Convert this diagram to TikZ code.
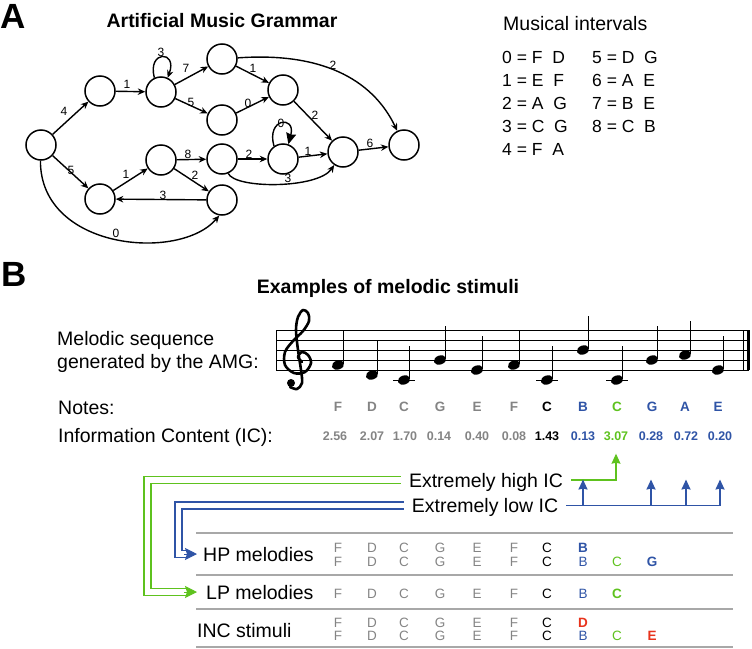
\documentclass[tikz,border=0pt]{standalone}
\usepackage{fontspec}
\setmainfont{Liberation Sans}
\usetikzlibrary{arrows.meta,calc}
\definecolor{ngray}{HTML}{848484}
\definecolor{nblue}{HTML}{2F54A6}
\definecolor{ngreen}{HTML}{5EC21E}
\definecolor{nred}{HTML}{E8331C}
\definecolor{rgray}{HTML}{A8A8A8}
\newcommand\tabrow[2]{\foreach \x/\t/\c/\f in {#2}{\node[tl, text=\c] (t#1x\x) at (\x,#1) {\f\t};}}
\begin{document}
\begin{tikzpicture}[x=1pt,y=-1pt,
 gnode/.style={circle,draw,line width=1.5pt,minimum size=30pt,inner sep=0pt},
 conn/.style={line width=1.4pt,-{Stealth[length=7.5pt,width=6.5pt]}},
 bigconn/.style={line width=1.4pt,-{Stealth[length=11pt,width=10pt,inset=1pt]}},
 elbl/.style={font=\fontsize{12}{14}\selectfont,inner sep=0pt,text height=8.6pt,text depth=0pt},
 panel/.style={font=\fontsize{35}{40}\selectfont\bfseries,inner sep=0pt,anchor=west,text height=25pt,text depth=0pt},
 ttl/.style={font=\fontsize{19.5}{23}\selectfont\bfseries,inner sep=0pt,text height=14pt,text depth=0pt},
 lab/.style={font=\fontsize{19.5}{23}\selectfont,inner sep=0pt,text height=14pt,text depth=0pt},
 ivl/.style={font=\fontsize{17.5}{20}\selectfont,inner sep=0pt,anchor=west,text height=12.5pt,text depth=0pt},
 nlet/.style={font=\fontsize{13.5}{15}\selectfont\bfseries,inner sep=0pt,text height=9.7pt,text depth=0pt},
 icv/.style={font=\fontsize{12.5}{14}\selectfont\bfseries,inner sep=0pt,text height=9pt,text depth=0pt},
 tl/.style={font=\fontsize{13.5}{15}\selectfont,inner sep=0pt,text height=9.7pt,text depth=0pt},
 gline/.style={draw=ngreen,line width=1.6pt},
 bline/.style={draw=nblue,line width=1.6pt},
]
\useasboundingbox (0,0) rectangle (752,648);

% ---------- panel A ----------
\node[panel] (pA) at (0,16) {A};
\node[ttl] (tA) at (222,20) {Artificial Music Grammar};

\node[gnode] (s)  at (41,145) {};
\node[gnode] (a1) at (100,91) {};
\node[gnode] (a2) at (161,92) {};
\node[gnode] (a3) at (222,59) {};
\node[gnode] (a4) at (222,120) {};
\node[gnode] (b1) at (100,199) {};
\node[gnode] (b2) at (161,160) {};
\node[gnode] (b3) at (222,159) {};
\node[gnode] (b4) at (222,200) {};
\node[gnode] (c1) at (283,90) {};
\node[gnode] (c2) at (283,159) {};
\node[gnode] (c3) at (343,152) {};
\node[gnode] (e)  at (404,145) {};

\draw[conn] (s) -- (a1);
\draw[conn] (s) -- (b1);
\draw[conn] (s.-92) .. controls (40,250) and (180,262) .. (b4.-100);
\draw[conn] (a1) -- (a2);
\draw[conn] (a2.115) .. controls (147,50) and (178,50) .. (a2.65);
\draw[conn] (a2) -- (a3);
\draw[conn] (a2) -- (a4);
\draw[conn] (a3) -- (c1);
\draw[conn] (a4) -- (c1);
\draw[conn] (a3) .. controls (320,52) and (372,78) .. (e);
\draw[conn] (c1) -- (c3);
\draw[conn] (b1) -- (b2);
\draw[conn] (b2) -- (b3);
\draw[conn] (b2) -- (b4);
\draw[conn] (b4) -- (b1);
\draw[conn] (b3) -- (c2);
\draw[bigconn] (c2.125) .. controls (266,118) and (296,115) .. (c2.70);
\draw[conn] (c2) -- (c3);
\draw[conn] (b3) .. controls (235,189) and (318,189) .. (c3);
\draw[conn] (c3) -- (e);

\node[elbl] (l1) at (64,111) {4};
\node[elbl] (l2) at (71,170) {5};
\node[elbl] (l3) at (127,84) {1};
\node[elbl] (l4) at (161,52) {3};
\node[elbl] (l5) at (186,68) {7};
\node[elbl] (l6) at (191,102) {5};
\node[elbl] (l7) at (188,154) {8};
\node[elbl] (l8) at (195,175) {2};
\node[elbl] (l9) at (126,174) {1};
\node[elbl] (l10) at (163,195) {3};
\node[elbl] (l11) at (116,233) {0};
\node[elbl] (l12) at (253,68) {1};
\node[elbl] (l13) at (333,65) {2};
\node[elbl] (l14) at (248,103) {0};
\node[elbl] (l15) at (315,115) {2};
\node[elbl] (l16) at (281,123) {0};
\node[elbl] (l17) at (249,154) {2};
\node[elbl] (l18) at (308,151) {1};
\node[elbl] (l19) at (370,143) {6};
\node[elbl] (l20) at (288,178) {3};

\node[lab, anchor=west] (mi) at (503,23) {Musical intervals};
\node[ivl] (i0) at (502,57) {0 = F\ \ D};
\node[ivl] (i1) at (502,80) {1 = E\ \ F};
\node[ivl] (i2) at (502,103) {2 = A\ \ G};
\node[ivl] (i3) at (502,126) {3 = C\ \ G};
\node[ivl] (i4) at (502,149) {4 = F\ \ A};
\node[ivl] (i5) at (592,57) {5 = D\ \ G};
\node[ivl] (i6) at (592,80) {6 = A\ \ E};
\node[ivl] (i7) at (592,103) {7 = B\ \ E};
\node[ivl] (i8) at (592,126) {8 = C\ \ B};

% ---------- panel B ----------
\node[panel] (pB) at (1,274) {B};
\node[ttl] (tB) at (388,286) {Examples of melodic stimuli};

\node[font=\fontsize{19.5}{23}\selectfont, inner sep=0pt, align=left, anchor=north west] (mel) at (57,331) {Melodic sequence\\generated by the AMG:};

% staff
\foreach \y in {330,340,350,360,370} \draw[line width=0.9pt] (276,\y) -- (749,\y);
\draw[line width=0.9pt] (276,330) -- (276,370);
\draw[line width=0.9pt] (743.5,330) -- (743.5,370);
\draw[line width=3pt] (748,330) -- (748,370);
% treble clef
\draw[line width=2.6pt, line cap=round, line join=round] plot[smooth, tension=0.55] coordinates {(302,362) (298,357) (302,352) (308,355) (311,363) (305,372) (294,373) (285,365) (285,352) (293,341) (303,331) (309,321) (308,313) (303,310) (298,317) (296,330) (298,350) (301,370) (302,383) (297,389) (290,387)};
\fill (291,383) circle[radius=4pt];
% notes
\foreach \x/\y in {338/365, 372/375, 404/380, 440/360, 477/370, 514/365, 547/380, 583/350, 617/380, 652/360, 685/355, 718/370}{
  \fill[rotate around={20:(\x,\y)}] (\x,\y) ellipse [x radius=6.3pt, y radius=4.5pt];
  \draw[line width=1pt] (\x+5.6,\y-1) -- (\x+5.6,\y-34);
}
\foreach \x in {404,547,617} \draw[line width=1pt] (\x-11,380) -- (\x+11,380);

\node[lab, anchor=west] (notes) at (58,407) {Notes:};
\node[lab, anchor=west] (info) at (58,435) {Information Content (IC):};

\foreach \x/\t/\c [count=\i] in {338/F/ngray,372/D/ngray,404/C/ngray,440/G/ngray,477/E/ngray,514/F/ngray,547/C/black,583/B/nblue,617/C/ngreen,652/G/nblue,685/A/nblue,718/E/nblue}
  \node[nlet, text=\c] (n\i) at (\x,407) {\t};
\foreach \x/\t/\c [count=\i] in {335/2.56/ngray,372/2.07/ngray,405/1.70/ngray,439/0.14/ngray,477/0.40/ngray,514/0.08/ngray,547/1.43/black,583/0.13/nblue,616/3.07/ngreen,651/0.28/nblue,686/0.72/nblue,720/0.20/nblue}
  \node[icv, text=\c] (v\i) at (\x,436) {\t};

% IC labels and connectors
\node[lab] (hi) at (486,480) {Extremely high IC};
\node[lab] (lo) at (485,505.5) {Extremely low IC};

\node[lab, anchor=west] (hp) at (203,554) {HP melodies};
\node[lab, anchor=west] (lp) at (206,592) {LP melodies};
\node[lab, anchor=west] (inc) at (197,630) {INC stimuli};

\draw[gline] ($(hi.east)+(8,0)$) -| ($(v9.south)+(0,22)$);
\draw[ngreen, line width=1pt, -{Stealth[length=10pt,width=9pt,inset=1pt]}] ($(v9.south)+(0,23)$) -- ($(v9.south)+(0,13)$);
\draw[bline] ($(lo.east)+(8,0)$) -- (v12 |- lo.east);
\foreach \k in {8,10,11,12}
  \draw[bline, -{Stealth[length=10pt,width=9pt,inset=1pt]}] (v\k |- lo.east) -- ($(v\k |- lo.east)+(0,-26)$);

\draw[gline] ($(hi.west)+(-8,-3.5)$) -| ($(lp.west)+(-62,3.5)$) -- ($(lp.west)+(-20,3.5)$);
\draw[gline] ($(hi.west)+(-8,3.5)$) -| ($(lp.west)+(-55,-3.5)$) -- ($(lp.west)+(-20,-3.5)$);
\draw[ngreen, line width=1pt, -{Stealth[length=12pt,width=12pt,inset=2pt]}] ($(lp.west)+(-22,0)$) -- ($(lp.west)+(-9,0)$);

\draw[bline] ($(lo.west)+(-8,-3.5)$) -| ($(hp.west)+(-28,3.5)$) -- ($(hp.west)+(-17,3.5)$);
\draw[bline] ($(lo.west)+(-8,3.5)$) -| ($(hp.west)+(-21,-3.5)$) -- ($(hp.west)+(-17,-3.5)$);
\draw[nblue, line width=1pt, -{Stealth[length=12pt,width=12pt,inset=2pt]}] ($(hp.west)+(-19,0)$) -- ($(hp.west)+(-6,0)$);

% table rules
\foreach \y in {533,575,609,647} \draw[rgray, line width=1.2pt] (196,\y) -- (733,\y);

% table rows
\tabrow{548}{338/F/ngray/\relax,372/D/ngray/\relax,404/C/ngray/\relax,440/G/ngray/\relax,477/E/ngray/\relax,514/F/ngray/\relax,547/C/black/\relax,583/B/nblue/\bfseries}
\tabrow{562}{338/F/ngray/\relax,372/D/ngray/\relax,404/C/ngray/\relax,440/G/ngray/\relax,477/E/ngray/\relax,514/F/ngray/\relax,547/C/black/\relax,583/B/nblue/\relax,617/C/ngreen/\relax,652/G/nblue/\bfseries}
\tabrow{594}{338/F/ngray/\relax,372/D/ngray/\relax,404/C/ngray/\relax,440/G/ngray/\relax,477/E/ngray/\relax,514/F/ngray/\relax,547/C/black/\relax,583/B/nblue/\relax,617/C/ngreen/\bfseries}
\tabrow{623}{338/F/ngray/\relax,372/D/ngray/\relax,404/C/ngray/\relax,440/G/ngray/\relax,477/E/ngray/\relax,514/F/ngray/\relax,547/C/black/\relax,583/D/nred/\bfseries}
\tabrow{636}{338/F/ngray/\relax,372/D/ngray/\relax,404/C/ngray/\relax,440/G/ngray/\relax,477/E/ngray/\relax,514/F/ngray/\relax,547/C/black/\relax,583/B/nblue/\relax,617/C/ngreen/\relax,652/E/nred/\bfseries}
\end{tikzpicture}
\end{document}
